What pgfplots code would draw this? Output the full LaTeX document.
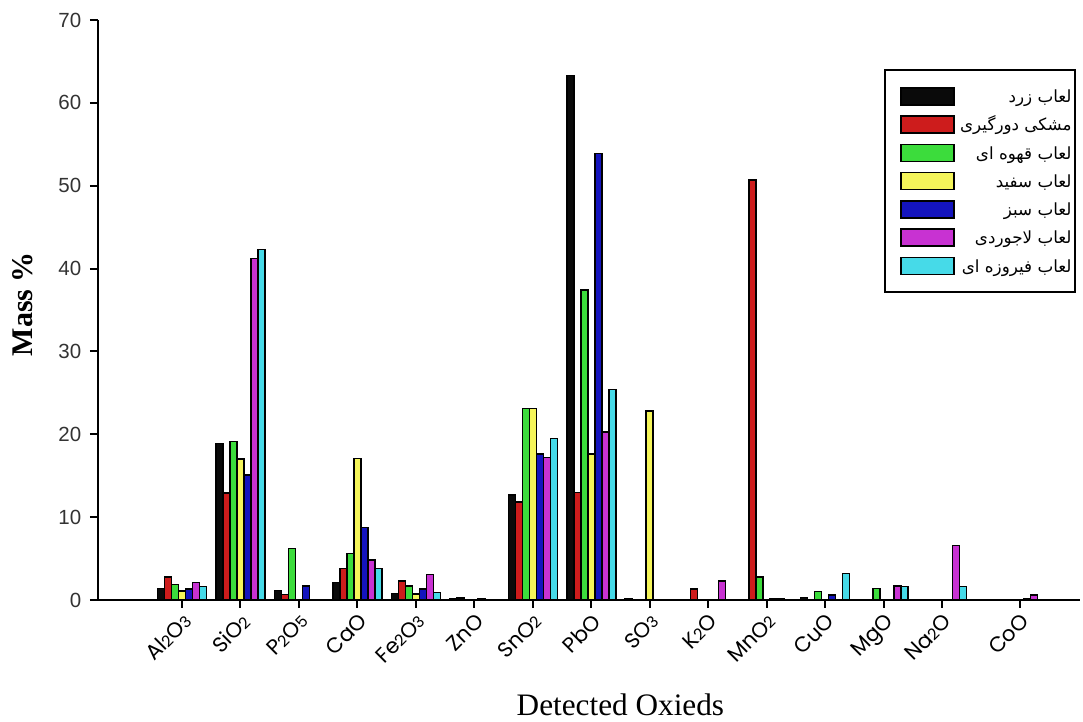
\documentclass[border=0pt]{standalone}
\usepackage{pgfplots}
\pgfplotsset{compat=1.18}
\usepackage{pgfplotstable}
\usepackage{fontspec}
\setmainfont{Liberation Serif}
\newfontfamily\sansf{Liberation Sans}
\newfontfamily\popp{Poppins}
\newfontfamily\arabicfont[Script=Arabic]{DejaVu Sans}
\TeXXeTstate=1
\newcommand\ar[1]{{\arabicfont\beginR #1\endR}}
\newcommand\sd[1]{{\fontsize{6.3}{6.3}\selectfont #1}}

\definecolor{cblk}{RGB}{10,10,10}
\definecolor{cred}{RGB}{205,28,28}
\definecolor{cgrn}{RGB}{60,220,60}
\definecolor{cyel}{RGB}{245,245,90}
\definecolor{cblu}{RGB}{20,20,190}
\definecolor{cmag}{RGB}{200,50,210}
\definecolor{ccyn}{RGB}{70,218,232}

\pgfplotstableread{
x blk red grn yel blu mag cyn
0 1.4 2.8 1.9 1.1 1.3 2.1 1.6
1 18.9 12.9 19.1 17.0 15.1 41.2 42.3
2 1.15 0.66 6.2 nan 1.7 nan nan
3 2.1 3.8 5.6 17.1 8.75 4.8 3.8
4 0.8 2.3 1.7 0.7 1.3 3.1 0.9
5 0.15 0.25 nan nan 0.1 nan nan
6 12.65 11.8 23.1 23.1 17.6 17.2 19.5
7 63.3 13.0 37.4 17.6 53.9 20.3 25.4
8 0.2 nan nan 22.8 nan nan nan
9 nan 1.3 nan nan nan 2.3 nan
10 nan 50.7 2.8 nan 0.1 0.1 nan
11 0.3 nan 1.0 nan 0.6 nan 3.2
12 nan nan 1.4 nan nan 1.7 1.6
13 nan nan nan nan nan 6.6 1.6
14.33 nan nan nan nan 0.2 0.6 nan
}\datatable

\pgfplotsset{
  mybar/.style={fill=#1, draw=black, line width=0.6pt,
    legend image code/.code={\path (0pt,0pt); \draw[fill=#1, draw=black, line width=0.6pt] (5pt,-3.4pt) rectangle (26.2pt,3.4pt);}},
}

\begin{document}
\begin{tikzpicture}
\begin{axis}[name=ax,
  scale only axis, width=392.8pt, height=232pt,
  xmin=-1.437, xmax=15.36, ymin=0, ymax=70,
  ybar=0pt, bar width=2.8pt,
  axis x line*=bottom, axis y line*=left,
  axis line style={line width=0.8pt, black},
  xtick={0,1,2,3,4,5,6,7,8,9,10,11,12,13,14.33},
  xticklabels={Al\sd{2}O\sd{3}, SiO\sd{2}, P\sd{2}O\sd{5}, CaO, Fe\sd{2}O\sd{3}, ZnO, SnO\sd{2}, PbO, SO\sd{3}, K\sd{2}O, MnO\sd{2}, CuO, MgO, Na\sd{2}O, CoO},
  ytick={0,10,20,30,40,50,60,70},
  tick align=outside, major tick length=3.2pt,
  tick style={line width=0.8pt, black},
  /pgf/number format/assume math mode=true,
  yticklabel style={font=\sansf\fontsize{8.2}{9}\selectfont, text=black!80},
  xticklabel style={rotate=45, anchor=north east, font=\popp\fontsize{8.5}{9}\selectfont, inner sep=1pt},
  xlabel={Detected Oxieds},
  xlabel style={at={(axis description cs:0.532,-0.181)}, anchor=center, font=\fontsize{12.5}{14}\selectfont},
  ylabel={Mass \%},
  ylabel style={at={(axis description cs:-0.0764,0.51)}, anchor=center, font=\bfseries\fontsize{12}{14}\selectfont},
  legend cell align=right,
  legend style={at={(axis description cs:0.800,0.9155)}, anchor=north west,
    draw=black, line width=0.8pt, inner xsep=1.2pt, inner ysep=6pt,
    font=\fontsize{6.7}{9}\selectfont,
    nodes={inner sep=0pt, text height=7pt, text depth=2pt},
    row sep=2.3pt,
    /tikz/every odd column/.append style={column sep=2.2pt}},
]
\addplot[mybar=cblk] table[x=x,y=blk]{\datatable};
\addlegendentry{\ar{لعاب زرد}}
\addplot[mybar=cred] table[x=x,y=red]{\datatable};
\addlegendentry{\ar{مشکی دورگیری}}
\addplot[mybar=cgrn] table[x=x,y=grn]{\datatable};
\addlegendentry{\ar{لعاب قهوه ای}}
\addplot[mybar=cyel] table[x=x,y=yel]{\datatable};
\addlegendentry{\ar{لعاب سفید}}
\addplot[mybar=cblu] table[x=x,y=blu]{\datatable};
\addlegendentry{\ar{لعاب سبز}}
\addplot[mybar=cmag] table[x=x,y=mag]{\datatable};
\addlegendentry{\ar{لعاب لاجوردی}}
\addplot[mybar=ccyn] table[x=x,y=cyn]{\datatable};
\addlegendentry{\ar{لعاب فیروزه ای}}
\end{axis}
\pgfresetboundingbox
\path[use as bounding box] ([xshift=-39.2pt,yshift=-48.8pt]ax.south west) rectangle ([xshift=1.2pt,yshift=8pt]ax.north east);
\end{tikzpicture}
\end{document}
